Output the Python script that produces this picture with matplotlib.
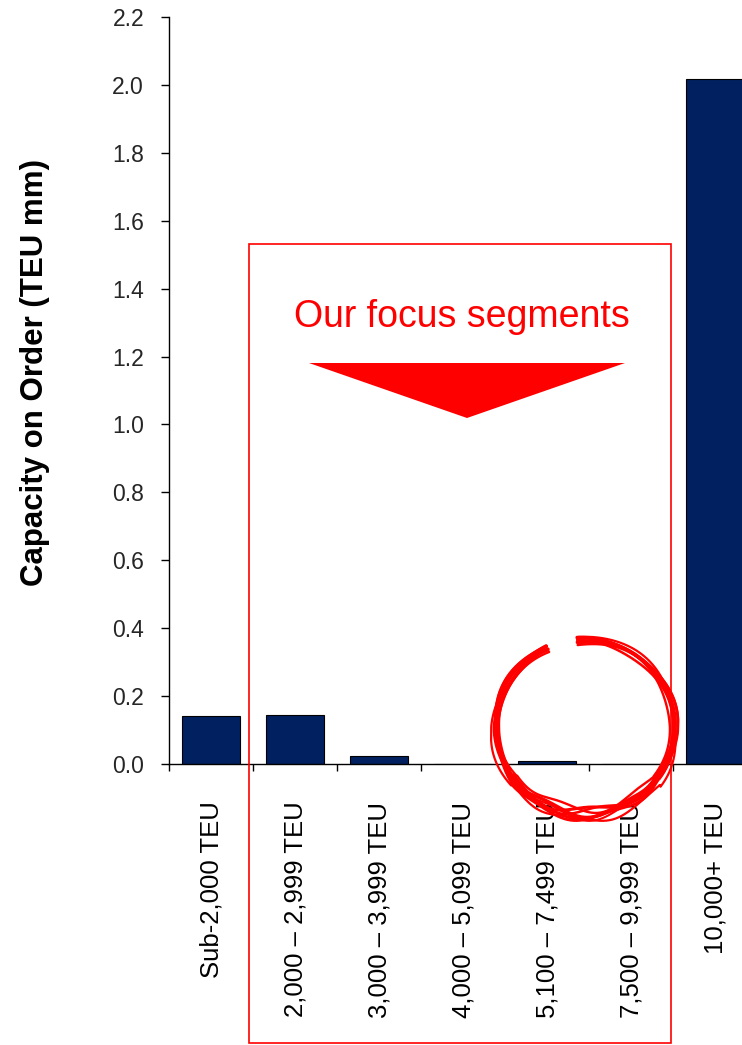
import numpy as np
import matplotlib
matplotlib.use("Agg")
import matplotlib.pyplot as plt
from matplotlib.patches import Rectangle, Polygon

plt.rcParams['font.family'] = ['Liberation Sans', 'DejaVu Sans']

# data
categories = ["Sub-2,000 TEU", "2,000 \u2013 2,999 TEU", "3,000 \u2013 3,999 TEU",
              "4,000 \u2013 5,099 TEU", "5,100 \u2013 7,499 TEU", "7,500 \u2013 9,999 TEU",
              "10,000+ TEU"]
capacity = [0.140, 0.143, 0.024, 0.0, 0.008, 0.0, 2.018]
y_ticks = [0.0, 0.2, 0.4, 0.6, 0.8, 1.0, 1.2, 1.4, 1.6, 1.8, 2.0, 2.2]

W, H = 742, 1045
fig = plt.figure(figsize=(W / 100, H / 100), dpi=100)

def fx(px):
    return px / W

def fy(py):
    return 1 - py / H

# axes (right side runs past the figure edge, like the original crop)
ax = fig.add_axes([fx(169), fy(764), (757 - 169) / W, (764 - 17) / H])
x = np.arange(len(categories))
ax.bar(x, capacity, width=0.68, color="#002060", edgecolor="black", linewidth=0.8)

ax.set_xlim(-0.5, len(categories) - 0.5)
ax.set_ylim(0, 2.2)
ax.set_yticks(y_ticks)
ax.set_yticklabels([f"{v:.1f}" for v in y_ticks], fontsize=16.5, color="#262626")
ax.tick_params(axis="y", length=6, width=1, pad=12)

ax.set_xticks(x)
ax.set_xticklabels(categories, rotation=90, fontsize=18.5, color="black")
ax.tick_params(axis="x", which="major", length=0, pad=27)
ax.set_xticks(np.arange(-0.5, len(categories)), minor=True)
ax.tick_params(axis="x", which="minor", length=5, width=1)

for s in ["top", "right"]:
    ax.spines[s].set_visible(False)
for s in ["left", "bottom"]:
    ax.spines[s].set_linewidth(1)

fig.text(fx(35), fy(372), "Capacity on Order (TEU mm)", rotation=90,
         ha="center", va="center", fontsize=22.5, fontweight="bold")

# focus box, arrow and text
fig.patches.append(Rectangle((fx(249), fy(1043)), fx(671) - fx(249), fy(244) - fy(1043),
                             transform=fig.transFigure, fill=False, edgecolor="red",
                             linewidth=1.2))
fig.patches.append(Polygon([(fx(309), fy(363)), (fx(625), fy(363)), (fx(467), fy(418))],
                           closed=True, transform=fig.transFigure, facecolor="red",
                           edgecolor="none"))
fig.text(fx(462), fy(327), "Our focus segments", color="red", fontsize=27,
         ha="center", va="baseline")

# hand-drawn style circle around the 5,100-9,999 TEU segments
cx, cy, rx, ry = 585, 727, 89, 87
strokes = [(0, 0, 2.6), (2, 3, 2.0), (-2, 2, 1.8), (1, -2, 2.2), (3, 5, 1.6),
           (-3, -1, 1.7), (-1, 4, 1.5), (2, 1, 1.9)]
t = np.radians(np.linspace(115, 455, 500))
for i, (dr, dy, lw) in enumerate(strokes):
    wob = 1.5 * np.sin(3 * t + i) + 1.0 * np.cos(5 * t - i)
    # heavier overlap at the bottom
    extra = np.where(np.sin(t) < -0.6, 3 * np.sin(7 * t + i) - 1, 0)
    xs = cx + (rx + dr + wob) * np.cos(t)
    ys = cy - (ry + dr + wob) * np.sin(t) + extra + dy * (np.sin(t) < 0)
    fig.add_artist(plt.Line2D(fx(xs), fy(ys), transform=fig.transFigure,
                              color="red", linewidth=lw, solid_capstyle="round"))

fig.savefig("out.png", dpi=100)
